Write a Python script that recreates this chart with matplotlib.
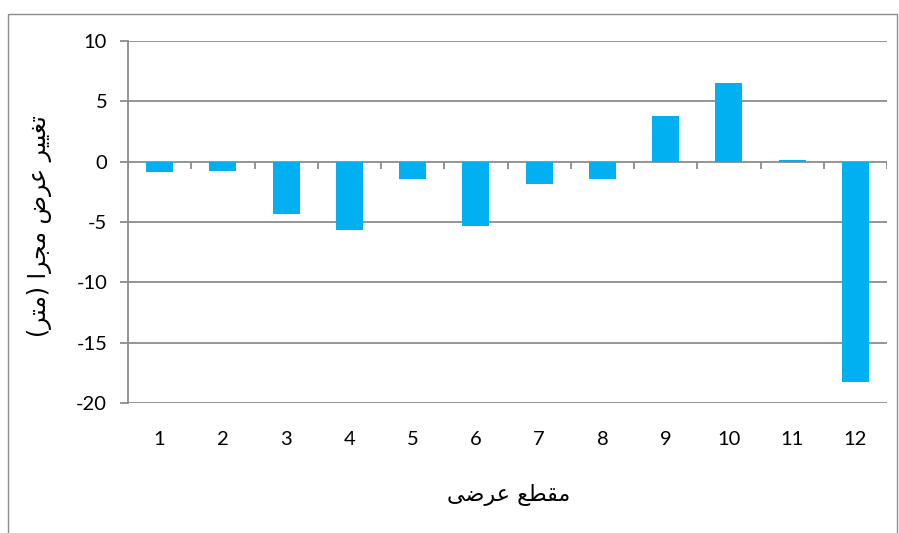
import matplotlib
matplotlib.use("Agg")
import matplotlib.pyplot as plt
from matplotlib.patches import Rectangle
import numpy as np

# ---- data ----
categories = ["1", "2", "3", "4", "5", "6", "7", "8", "9", "10", "11", "12"]
values = [-0.87, -0.81, -4.31, -5.67, -1.42, -5.36, -1.88, -1.40, 3.77, 6.54, 0.1, -18.3]
y_ticks = [10, 5, 0, -5, -10, -15, -20]
y_label = "تغییر عرض مجرا (متر)"
x_label = "مقطع عرضی"

# ---- minimal Arabic/Persian shaping for matplotlib (no contextual shaping built in) ----
FORMS = {  # isolated, final, initial, medial
    "\u062A": ("\uFE95", "\uFE96", "\uFE97", "\uFE98"),
    "\u063A": ("\uFECD", "\uFECE", "\uFECF", "\uFED0"),
    "\u06CC": ("\uFBFC", "\uFBFD", "\uFBFE", "\uFBFF"),
    "\u0631": ("\uFEAD", "\uFEAE", None, None),
    "\u0639": ("\uFEC9", "\uFECA", "\uFECB", "\uFECC"),
    "\u0636": ("\uFEBD", "\uFEBE", "\uFEBF", "\uFEC0"),
    "\u0645": ("\uFEE1", "\uFEE2", "\uFEE3", "\uFEE4"),
    "\u062C": ("\uFE9D", "\uFE9E", "\uFE9F", "\uFEA0"),
    "\u0627": ("\uFE8D", "\uFE8E", None, None),
    "\u0642": ("\uFED5", "\uFED6", "\uFED7", "\uFED8"),
    "\u0637": ("\uFEC1", "\uFEC2", "\uFEC3", "\uFEC4"),
}


def dual(c):
    return c in FORMS and FORMS[c][2] is not None


def shape(text):
    out = []
    n = len(text)
    for i, c in enumerate(text):
        if c not in FORMS:
            out.append(c)
            continue
        prev = text[i - 1] if i > 0 else ""
        nxt = text[i + 1] if i < n - 1 else ""
        jp = dual(prev)
        jn = dual(c) and (nxt in FORMS)
        iso, fin, ini, med = FORMS[c]
        if jp and jn:
            out.append(med)
        elif jp:
            out.append(fin)
        elif jn:
            out.append(ini)
        else:
            out.append(iso)
    vis = "".join(reversed(out))
    vis = vis.translate(str.maketrans("()", ")("))
    return vis


# ---- figure ----
W, H = 899, 533
fig = plt.figure(figsize=(W / 100, H / 100), dpi=100)
fig.patch.set_facecolor("white")

# outer chart border
fig.add_artist(Rectangle((8 / W, -0.05), (897 - 8) / W, 1 - 14 / H + 0.05,
                         transform=fig.transFigure, fill=False,
                         edgecolor="#8c8c8c", linewidth=1.0))

ax = fig.add_axes([128 / W, 1 - 403 / H, (887 - 128) / W, (403 - 41) / H])
grid_c = "#8c8c8c"
x = np.arange(1, len(categories) + 1)

for t in y_ticks:
    ax.axhline(t, color=grid_c, linewidth=1.3, zorder=1)

ax.bar(x, values, width=0.43, color="#00B0F0", zorder=3)

# category boundary tick marks on the zero line
bounds = np.arange(0.5, len(categories) + 1, 1.0)
ax.vlines(bounds, 0, -0.6, color=grid_c, linewidth=1.3, zorder=2)

ax.set_xlim(0.5, len(categories) + 0.5)
ax.set_ylim(-20, 10)
ax.set_yticks(y_ticks)
ax.set_yticklabels([str(t) for t in y_ticks])
ax.set_xticks(x)
ax.set_xticklabels(categories)

for s in ["top", "right", "bottom"]:
    ax.spines[s].set_visible(False)
ax.spines["left"].set_color(grid_c)
ax.spines["left"].set_linewidth(1.3)

ax.tick_params(axis="y", direction="out", length=6, width=1.3, color=grid_c,
               pad=9, labelsize=14.5, labelcolor="black")
ax.tick_params(axis="x", length=0, pad=20, labelsize=14.5, labelcolor="black")
for lab in ax.get_xticklabels() + ax.get_yticklabels():
    lab.set_family(["Lato", "DejaVu Sans"])

fig.text(40 / W, 1 - 226 / H, shape(y_label), rotation=90, ha="center", va="center",
         fontsize=17, family=["DejaVu Sans"], color="black")
fig.text(509 / W, 1 - 495 / H, shape(x_label), ha="center", va="center",
         fontsize=16, family=["DejaVu Sans"], color="black")

fig.savefig("out.png", dpi=100)
